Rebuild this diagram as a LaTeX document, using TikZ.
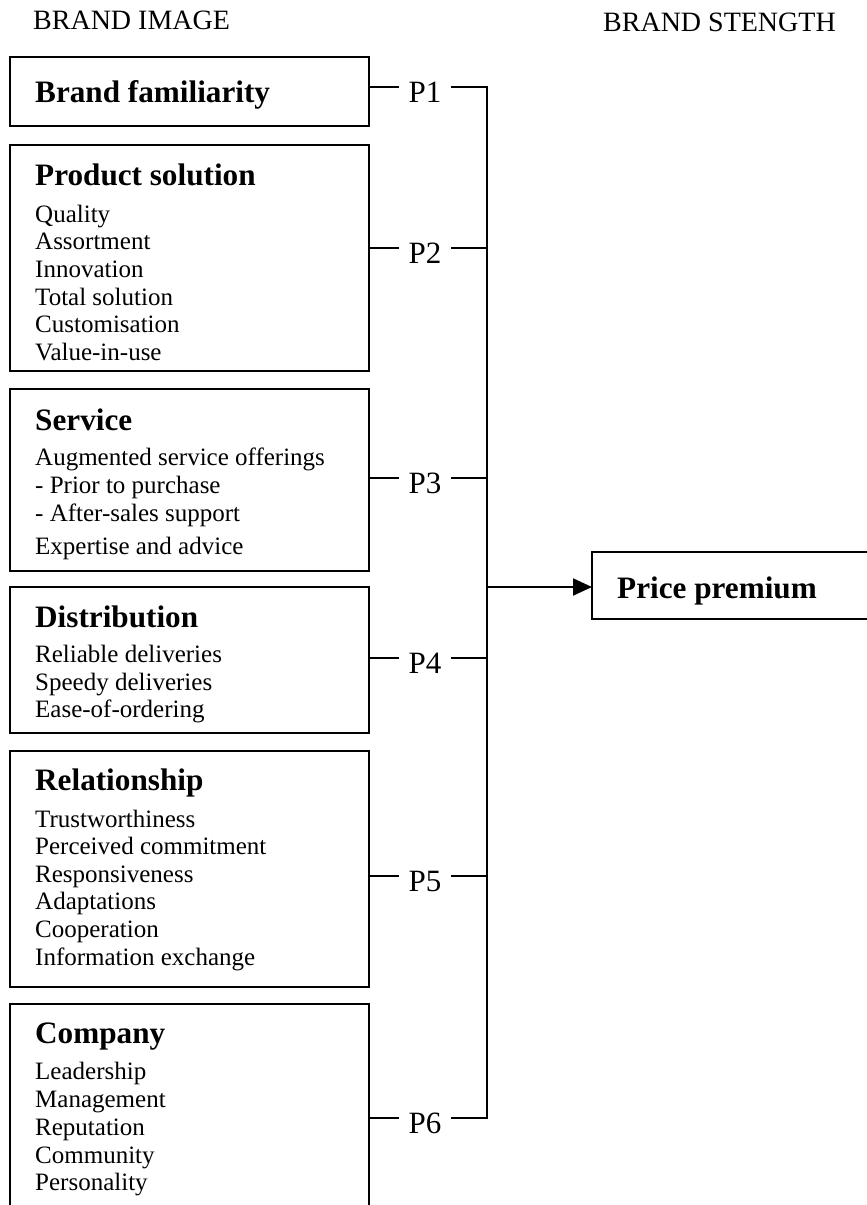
\documentclass[tikz,border=0pt]{standalone}
\usepackage{fontspec}
\setmainfont{Liberation Serif}
\usetikzlibrary{arrows.meta}
\begin{document}
\begin{tikzpicture}[x=1pt,y=-1pt,
  box/.style={draw, line width=2pt, anchor=north west, inner sep=0pt, outer sep=0pt},
  head/.style={anchor=base west, inner sep=0pt, font=\fontsize{31.2}{36}\selectfont\bfseries},
  item/.style={anchor=base west, inner sep=0pt, font=\fontsize{25}{29}\selectfont},
  title/.style={anchor=base west, inner sep=0pt, font=\fontsize{28}{32}\selectfont},
  plabel/.style={anchor=base, inner xsep=10pt, inner ysep=0pt, outer sep=0pt, font=\fontsize{31}{36}\selectfont},
  link/.style={line width=2pt}]
\useasboundingbox (0,0) rectangle (867,1205);
\clip (0,0) rectangle (867,1205);

% headers
\node[title] (hi) at (33,29) {BRAND IMAGE};
\node[title] (hs) at (603,31) {BRAND STENGTH};

% boxes
\node[box, minimum width=359pt, minimum height=69pt] (b1) at (10,57) {};
\node[box, minimum width=359pt, minimum height=226pt] (b2) at (10,145) {};
\node[box, minimum width=359pt, minimum height=182pt] (b3) at (10,389) {};
\node[box, minimum width=359pt, minimum height=146pt] (b4) at (10,587) {};
\node[box, minimum width=359pt, minimum height=236pt] (b5) at (10,751) {};
\node[box, minimum width=359pt, minimum height=240pt] (b6) at (10,1004) {};
\node[box, minimum width=320pt, minimum height=67pt] (pp) at (592,552) {};

% box 1
\node[head] (t1) at (35,102) {Brand familiarity};
% box 2
\node[head] (t2) at (35,185) {Product solution};
\node[item] (t2a) at (35,222) {Quality};
\node[item] (t2b) at (35,249.7) {Assortment};
\node[item] (t2c) at (35,277.4) {Innovation};
\node[item] (t2d) at (35,305.1) {Total solution};
\node[item] (t2e) at (35,332.8) {Customisation};
\node[item] (t2f) at (35,360.5) {Value-in-use};
% box 3
\node[head] (t3) at (35,430) {Service};
\node[item] (t3a) at (35,465) {Augmented service offerings};
\node[item] (t3b) at (35,493) {- Prior to purchase};
\node[item] (t3c) at (35,521) {- After-sales support};
\node[item] (t3d) at (35,554) {Expertise and advice};
% box 4
\node[head] (t4) at (35,627) {Distribution};
\node[item] (t4a) at (35,662) {Reliable deliveries};
\node[item] (t4b) at (35,690) {Speedy deliveries};
\node[item] (t4c) at (35,717) {Ease-of-ordering};
% box 5
\node[head] (t5) at (35,790) {Relationship};
\node[item] (t5a) at (35,827) {Trustworthiness};
\node[item] (t5b) at (35,854.6) {Perceived commitment};
\node[item] (t5c) at (35,882.2) {Responsiveness};
\node[item] (t5d) at (35,909.8) {Adaptations};
\node[item] (t5e) at (35,937.4) {Cooperation};
\node[item] (t5f) at (35,965) {Information exchange};
% box 6
\node[head] (t6) at (35,1043) {Company};
\node[item] (t6a) at (35,1079) {Leadership};
\node[item] (t6b) at (35,1107) {Management};
\node[item] (t6c) at (35,1135) {Reputation};
\node[item] (t6d) at (35,1163) {Community};
\node[item] (t6e) at (35,1190) {Personality};
% price premium
\node[head] (tp) at (617,598) {Price premium};

% junctions
\coordinate (j1) at (487,87);
\coordinate (j2) at (487,248);
\coordinate (j3) at (487,478);
\coordinate (j4) at (487,658);
\coordinate (j5) at (487,876);
\coordinate (j6) at (487,1118);
\coordinate (ja) at (487,587);

% P labels
\node[plabel] (p1) at (425,102) {P1};
\node[plabel] (p2) at (425,263) {P2};
\node[plabel] (p3) at (425,493) {P3};
\node[plabel] (p4) at (425,673) {P4};
\node[plabel] (p5) at (425,891) {P5};
\node[plabel] (p6) at (425,1133) {P6};

% connectors
\draw[link] (b1.east |- j1) -- (p1.west |- j1);
\draw[link] (b2.east |- j2) -- (p2.west |- j2);
\draw[link] (b3.east |- j3) -- (p3.west |- j3);
\draw[link] (b4.east |- j4) -- (p4.west |- j4);
\draw[link] (b5.east |- j5) -- (p5.west |- j5);
\draw[link] (b6.east |- j6) -- (p6.west |- j6);
\draw[link] (p1.east |- j1) -- (j1) -- (j6) -- (p6.east |- j6);
\draw[link] (p2.east |- j2) -- (j2);
\draw[link] (p3.east |- j3) -- (j3);
\draw[link] (p4.east |- j4) -- (j4);
\draw[link] (p5.east |- j5) -- (j5);
\draw[link, -{Triangle[length=19pt,width=17pt]}] (ja) -- (pp.west |- ja);
\end{tikzpicture}
\end{document}
